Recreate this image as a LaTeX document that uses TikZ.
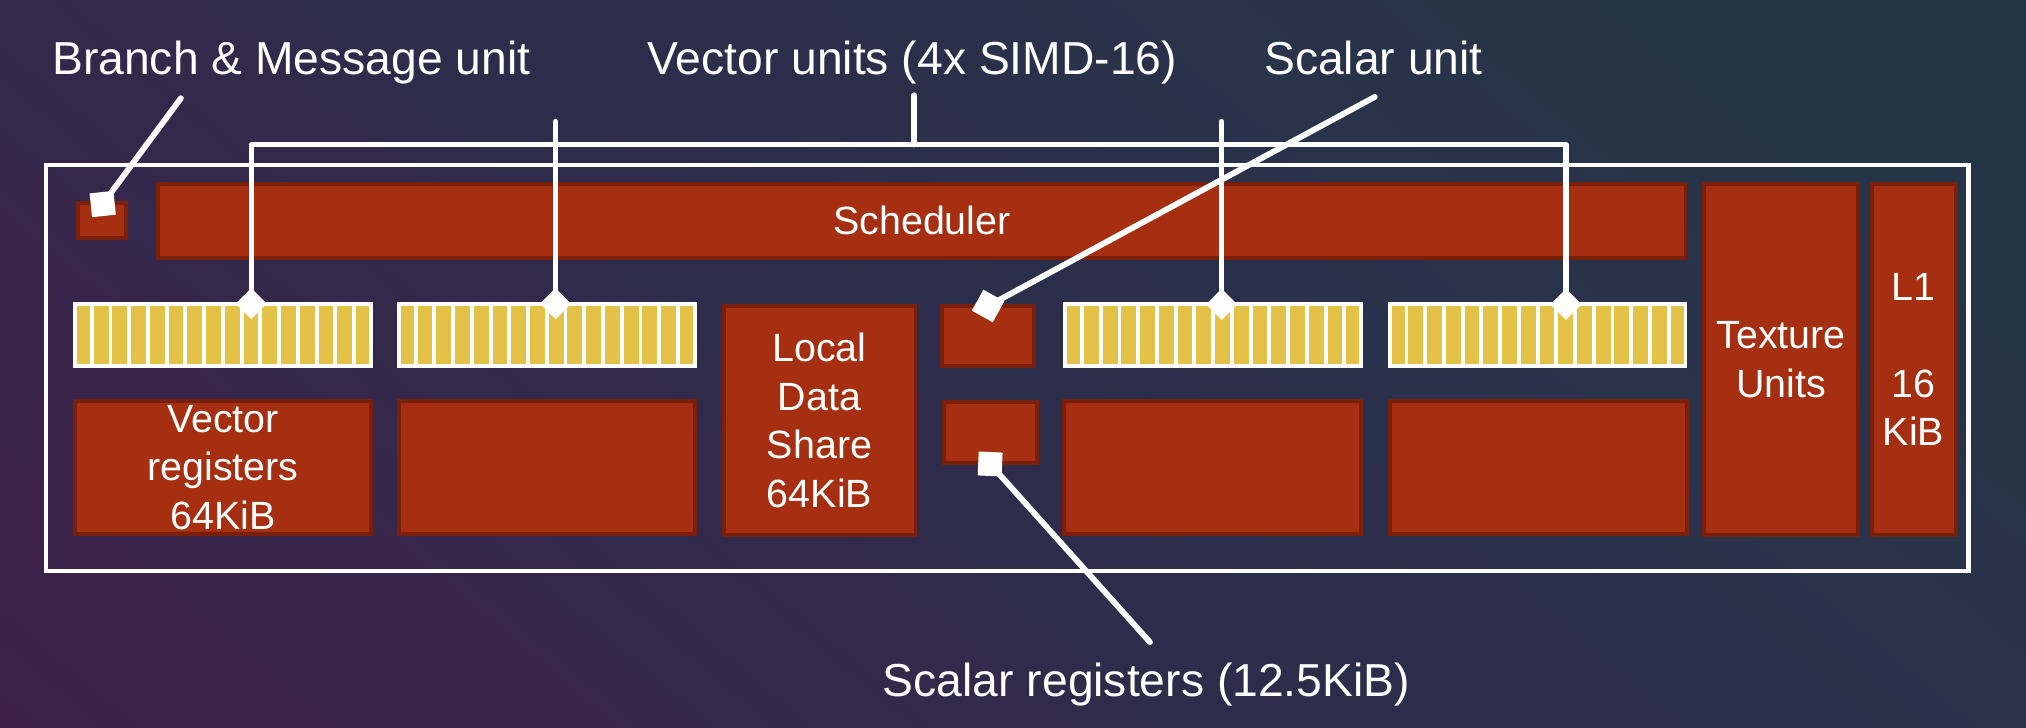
\documentclass[tikz,border=0pt]{standalone}
\usepackage{fontspec}
\setmainfont{Liberation Sans}
\usetikzlibrary{calc}
\definecolor{bgA}{HTML}{40204A}
\definecolor{bgB}{HTML}{33294A}
\definecolor{bgC}{HTML}{2C2D4A}
\definecolor{bgD}{HTML}{29334A}
\definecolor{bgE}{HTML}{243545}
\definecolor{cured}{HTML}{A52F10}
\definecolor{cuedge}{HTML}{7A1F0B}
\definecolor{simdy}{HTML}{E4C247}
\pgfdeclarehorizontalshading{bgshade}{100bp}{color(0bp)=(bgA); color(25bp)=(bgA); color(40bp)=(bgB); color(50bp)=(bgC); color(60bp)=(bgD); color(75bp)=(bgE); color(100bp)=(bgE)}
\begin{document}
\begin{tikzpicture}[x=1pt,y=-1pt,
  block/.style={draw=cuedge, fill=cured, line width=3pt, inner sep=0pt, text=white, align=center, font=\fontsize{30.5}{37.5}\selectfont},
  simd/.style={draw=white, fill=simdy, line width=3pt, minimum width=229pt, minimum height=48pt, inner sep=0pt},
  simdbar/.style={draw=white, line width=3pt},
  caption/.style={text=white, anchor=base, inner sep=0pt, font=\fontsize{35.8}{42}\selectfont},
  conn/.style={draw=white, line width=4.5pt, line cap=round},
  brk/.style={draw=white, line width=4pt, line cap=round, line join=round},
  sqmark/.style={fill=white, minimum size=18.5pt, inner sep=0pt},
  dmark/.style={fill=white, minimum size=17pt, inner sep=0pt, rotate=45},
  cuframe/.style={draw=white, line width=3.2pt, inner sep=0pt}
]
\useasboundingbox (0,0) rectangle (1568,563);
% background
\begin{scope}
  \clip (0,0) rectangle (1568,563);
  \begin{scope}[transform canvas={shift={(784,281.5)}, rotate=50}]
    \shade[shading=bgshade] (-720,-800) rectangle (720,800);
  \end{scope}
\end{scope}

% compute unit frame
\node[cuframe, minimum width=1488pt, minimum height=314.6pt] (cu) at (779.5,284.8) {};

% blocks
\node[block, minimum width=37.5pt, minimum height=27.2pt] (bmu) at (78.9,170.7) {};
\node[block, minimum width=1182pt, minimum height=57.6pt] (sched) at (713.5,170.9) {Scheduler};
\node[block, minimum width=119.5pt, minimum height=271.5pt] (tex) at (1378.5,278.2) {Texture\\Units};
\node[block, minimum width=65pt, minimum height=271.5pt] (l1) at (1481,278.2) {L1\\[37.5pt]16\\KiB};

\node[simd] (simd1) at (172.5,259) {};
\node[simd] (simd2) at (423.2,259) {};
\node[simd] (simd3) at (938.9,259) {};
\node[simd] (simd4) at (1190,259) {};
\foreach \s in {simd1,simd2,simd3,simd4}{
  \foreach \i in {1,...,15}{
    \draw[simdbar] ($(\s.north west)!\i/16!(\s.north east)$) -- ($(\s.south west)!\i/16!(\s.south east)$);
  }
}

\node[block, minimum width=148.5pt, minimum height=177.5pt] (lds) at (634.25,325.5) {Local\\Data\\Share\\64KiB};
\node[block, minimum width=71.5pt, minimum height=46.7pt] (su) at (764.8,260.2) {};
\node[block, minimum width=71.5pt, minimum height=47.5pt] (sr) at (766.6,334.8) {};

\node[block, minimum width=228.5pt, minimum height=102.7pt] (vr1) at (172.6,361.6) {Vector\\registers\\64KiB};
\node[block, minimum width=229.2pt, minimum height=102.7pt] (vr2) at (423.4,361.6) {};
\node[block, minimum width=230.3pt, minimum height=102.7pt] (vr3) at (938.4,361.6) {};
\node[block, minimum width=229.5pt, minimum height=102.7pt] (vr4) at (1190.6,361.6) {};

% captions
\node[caption] (lbm) at (225.5,57.3) {Branch \& Message unit};
\node[caption] (lvu) at (706,57.3) {Vector units (4x SIMD-16)};
\node[caption] (lsu) at (1063,57.3) {Scalar unit};
\node[caption] (lsr) at (887.3,539.2) {Scalar registers (12.5KiB)};

% free ends of connectors
\coordinate (bmt) at (140,76);
\coordinate (vut) at (707.4,73.5);
\coordinate (vuj) at (707.4,112);
\coordinate (v2t) at (430,94);
\coordinate (v3t) at (945.5,94);
\coordinate (sut) at (1064,75);
\coordinate (srt) at (890,497);

% markers
\node[sqmark, rotate=6] (bmk) at (79.5,157.9) {};
\node[sqmark, rotate=-29] (suk) at (764.7,236.8) {};
\node[sqmark, rotate=-2.5] (srk) at (766.3,359.1) {};
\node[dmark] (d1) at (194.5,235) {};
\node[dmark] (d2) at (430,235) {};
\node[dmark] (d3) at (945.5,235.5) {};
\node[dmark] (d4) at (1212,235.5) {};

% connectors
\draw[conn] (bmt) -- (bmk.center);
\draw[conn] (sut) -- (suk.center);
\draw[conn] (srt) -- (srk.center);
\draw[brk] (vut) -- (vuj);
\draw[brk] (d1.center) -- (d1.center |- vuj) -- (d4.center |- vuj) -- (d4.center);
\draw[brk] (v2t) -- (d2.center);
\draw[brk] (v3t) -- (d3.center);
\end{tikzpicture}
\end{document}
